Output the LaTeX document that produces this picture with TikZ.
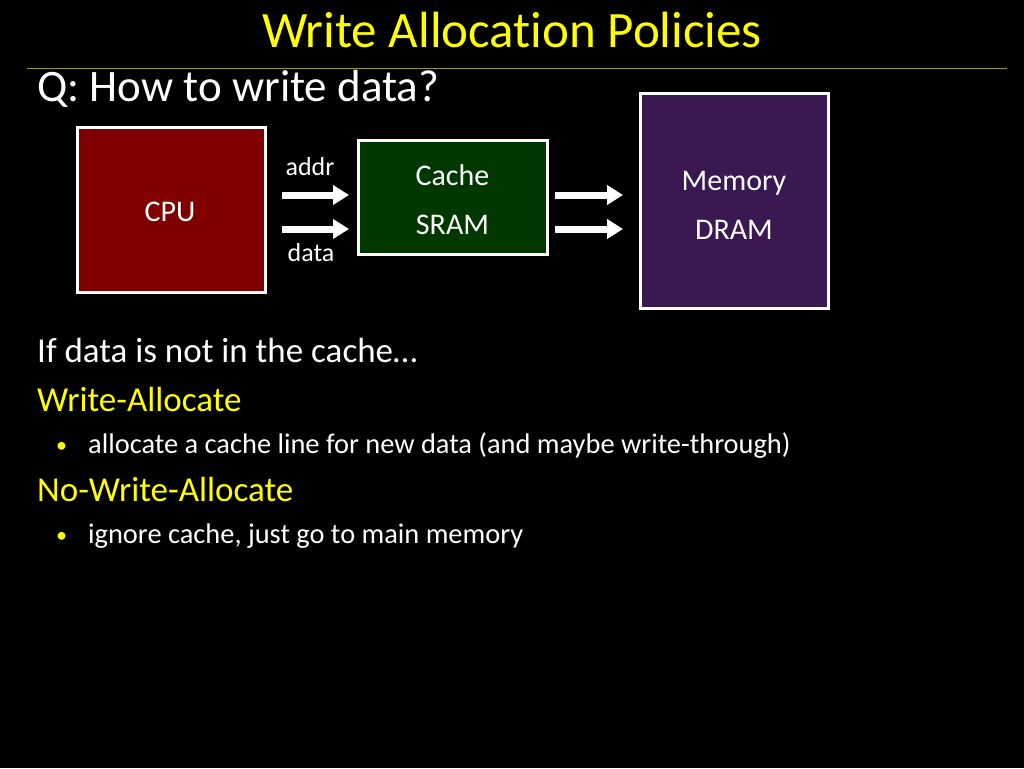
\documentclass[tikz,border=0pt]{standalone}
\usepackage{fontspec}
\setmainfont{Carlito}[Ligatures=CommonOff]
\usetikzlibrary{arrows.meta}
\definecolor{ttlyellow}{RGB}{255,255,0}
\definecolor{rulecol}{RGB}{150,150,40}
\definecolor{cpured}{RGB}{128,0,0}
\definecolor{cachegreen}{RGB}{0,56,0}
\definecolor{mempurple}{RGB}{58,24,82}
\tikzset{
  blk/.style={draw=white, line width=3pt, inner sep=0pt},
  blktext/.style={inner sep=0pt, text=white, align=center, font=\fontsize{30}{49}\selectfont},
  wire/.style={draw=white, line width=7pt, -{Triangle[length=16pt,width=19pt]}, shorten >=-2pt},
  lbl/.style={text=white, font=\fontsize{26}{30}\selectfont, inner sep=0pt},
  txt/.style={anchor=base west, inner sep=0pt, text=white},
  ylw/.style={anchor=base west, inner sep=0pt, text=ttlyellow},
}
\begin{document}
\begin{tikzpicture}[x=1pt,y=-1pt]
\fill[black] (0,0) rectangle (1024,768);
\useasboundingbox (0,0) rectangle (1024,768);
\node[anchor=base, text=ttlyellow, font=\fontsize{51}{56}\selectfont, inner sep=0pt] (title) at (512,48) {Write Allocation Policies};
\draw[rulecol, line width=1pt] (27,68) -- (1007,68);
\node[txt, font=\fontsize{45}{50}\selectfont] (q) at (37,101) {Q: How to write data?};
\node[blk, fill=cpured, minimum width=188pt, minimum height=165pt] (cpu) at (171,209.5) {};
\node[blktext] (cpulbl) at (170,212) {CPU};
\node[blk, fill=cachegreen, minimum width=189pt, minimum height=114pt] (cache) at (452.5,197) {};
\node[blktext] (cachelbl) at (452.5,200) {Cache\\SRAM};
\node[blk, fill=mempurple, minimum width=188pt, minimum height=215pt] (mem) at (734,200.5) {};
\node[blktext] (memlbl) at (734,205) {Memory\\DRAM};
\coordinate (a1s) at (282,195); \coordinate (a1e) at (347,195);
\coordinate (a2s) at (282,229); \coordinate (a2e) at (347,229);
\coordinate (b1s) at (555,195); \coordinate (b1e) at (621,195);
\coordinate (b2s) at (555,229); \coordinate (b2e) at (621,229);
\draw[wire] (a1s) -- (a1e);
\draw[wire] (a2s) -- (a2e);
\draw[wire] (b1s) -- (b1e);
\draw[wire] (b2s) -- (b2e);
\node[lbl] (addr) at (310,167) {addr};
\node[lbl] (data) at (311,253) {data};
\node[txt, font=\fontsize{35}{40}\selectfont] (if) at (37,362) {If data is not in the cache…};
\node[ylw, font=\fontsize{35}{40}\selectfont] (wa) at (37,411) {Write-Allocate};
\node[ylw, font=\fontsize{22}{26}\selectfont] (b1) at (56,452) {•};
\node[txt, font=\fontsize{28.4}{32}\selectfont] (t1) at (88,453) {allocate a cache line for new data (and maybe write-through)};
\node[ylw, font=\fontsize{35}{40}\selectfont] (nwa) at (37,501) {No-Write-Allocate};
\node[ylw, font=\fontsize{22}{26}\selectfont] (b2) at (56,542) {•};
\node[txt, font=\fontsize{28.4}{32}\selectfont] (t2) at (88,543) {ignore cache, just go to main memory};
\end{tikzpicture}
\end{document}
